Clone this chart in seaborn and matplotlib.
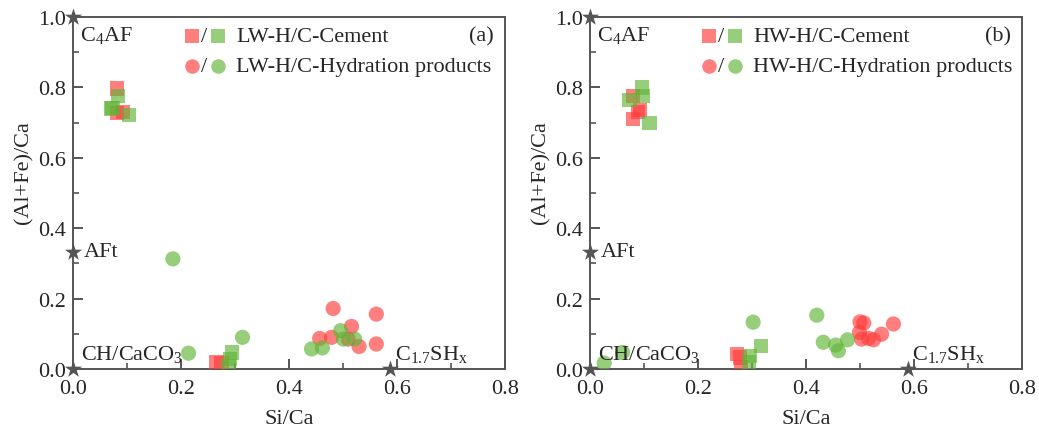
import matplotlib
matplotlib.use("Agg")
import matplotlib.pyplot as plt
from matplotlib.ticker import MultipleLocator
import seaborn as sns
import pandas as pd

# ---- LW-H/C : panel (a) ----
lw_cem_red_x = [0.081, 0.092, 0.082, 0.266, 0.275]
lw_cem_red_y = [0.797, 0.731, 0.727, 0.021, 0.016]
lw_cem_green_x = [0.084, 0.073, 0.070, 0.104, 0.294, 0.291, 0.288]
lw_cem_green_y = [0.775, 0.741, 0.740, 0.722, 0.047, 0.028, 0.009]
lw_hyd_red_x = [0.482, 0.562, 0.516, 0.457, 0.479, 0.510, 0.530, 0.562]
lw_hyd_red_y = [0.172, 0.156, 0.121, 0.087, 0.090, 0.085, 0.064, 0.071]
lw_hyd_green_x = [0.185, 0.214, 0.314, 0.496, 0.501, 0.522, 0.442, 0.462]
lw_hyd_green_y = [0.313, 0.045, 0.090, 0.109, 0.085, 0.085, 0.057, 0.060]

# ---- HW-H/C : panel (b) ----
hw_cem_red_x = [0.079, 0.093, 0.088, 0.079, 0.272, 0.278, 0.279]
hw_cem_red_y = [0.776, 0.736, 0.730, 0.710, 0.043, 0.033, 0.005]
hw_cem_green_x = [0.096, 0.098, 0.073, 0.110, 0.296, 0.295, 0.316]
hw_cem_green_y = [0.800, 0.776, 0.765, 0.699, 0.038, 0.019, 0.066]
hw_hyd_red_x = [0.500, 0.507, 0.562, 0.499, 0.540, 0.503, 0.516, 0.525]
hw_hyd_red_y = [0.134, 0.131, 0.128, 0.104, 0.099, 0.085, 0.087, 0.083]
hw_hyd_green_x = [0.026, 0.060, 0.302, 0.420, 0.432, 0.455, 0.460, 0.477]
hw_hyd_green_y = [0.017, 0.047, 0.133, 0.153, 0.076, 0.068, 0.052, 0.083]

# reference phases (Si/Ca, (Al+Fe)/Ca)
phase_names = ["C$_4$AF", "AFt", "CH/CaCO$_3$", "C$_{1.7}$SH$_{\\mathrm{x}}$"]
phase_x = [0.0, 0.0, 0.0, 1 / 1.7]
phase_y = [1.0, 1 / 3, 0.0, 0.0]

panel_labels = ["(a)", "(b)"]
legend_cement = ["LW-H/C-Cement", "HW-H/C-Cement"]
legend_hydration = ["LW-H/C-Hydration products", "HW-H/C-Hydration products"]

RED = "#ff3b3b"
GREEN = "#5fb435"
STAR = "#555555"
SPINE = "#555555"

sns.set_style("ticks")
plt.rcParams["font.family"] = ["Liberation Serif", "DejaVu Serif"]
plt.rcParams["mathtext.fontset"] = "custom"
plt.rcParams["mathtext.rm"] = "Liberation Serif"
plt.rcParams["mathtext.it"] = "Liberation Serif:italic"
plt.rcParams["mathtext.bf"] = "Liberation Serif:bold"
plt.rcParams["xtick.direction"] = "in"
plt.rcParams["ytick.direction"] = "in"


def frame(xs, ys, group, color):
    return pd.DataFrame({"x": xs, "y": ys, "group": group, "color": color})


panels = [
    [
        frame(lw_cem_red_x, lw_cem_red_y, "cement", "red"),
        frame(lw_cem_green_x, lw_cem_green_y, "cement", "green"),
        frame(lw_hyd_red_x, lw_hyd_red_y, "hydration", "red"),
        frame(lw_hyd_green_x, lw_hyd_green_y, "hydration", "green"),
    ],
    [
        frame(hw_cem_red_x, hw_cem_red_y, "cement", "red"),
        frame(hw_cem_green_x, hw_cem_green_y, "cement", "green"),
        frame(hw_hyd_red_x, hw_hyd_red_y, "hydration", "red"),
        frame(hw_hyd_green_x, hw_hyd_green_y, "hydration", "green"),
    ],
]

fig = plt.figure(figsize=(10.39, 4.31), dpi=100)
ax_a = fig.add_axes([0.0703, 0.1415, 0.4155, 0.8165])
ax_b = fig.add_axes([0.5680, 0.1415, 0.4155, 0.8165])

FS = 16

for i, (ax, parts) in enumerate(zip([ax_a, ax_b], panels)):
    df = pd.concat(parts, ignore_index=True)
    palette = {"red": RED, "green": GREEN}
    sns.scatterplot(data=df[df.group == "cement"], x="x", y="y", hue="color",
                    palette=palette, marker="s", s=105, alpha=0.65,
                    linewidth=0, legend=False, ax=ax, zorder=3)
    sns.scatterplot(data=df[df.group == "hydration"], x="x", y="y", hue="color",
                    palette=palette, marker="o", s=120, alpha=0.65,
                    linewidth=0, legend=False, ax=ax, zorder=3)

    # reference phases
    ax.scatter(phase_x, phase_y, marker="*", s=170, color=STAR, zorder=5,
               clip_on=False, linewidth=0)
    ax.text(0.012, 0.950, phase_names[0], fontsize=FS, ha="left", va="center")
    ax.text(0.020, 1 / 3, phase_names[1], fontsize=FS, ha="left", va="center")
    ax.text(0.014, 0.045, phase_names[2], fontsize=FS, ha="left", va="center")
    ax.text(0.597, 0.043, phase_names[3], fontsize=FS, ha="left", va="center")

    ax.set_xlim(0, 0.8)
    ax.set_ylim(0, 1.0)
    ax.xaxis.set_major_locator(MultipleLocator(0.2))
    ax.xaxis.set_minor_locator(MultipleLocator(0.1))
    ax.yaxis.set_major_locator(MultipleLocator(0.2))
    ax.yaxis.set_minor_locator(MultipleLocator(0.1))
    ax.xaxis.set_major_formatter(lambda v, p: f"{v:.1f}")
    ax.yaxis.set_major_formatter(lambda v, p: f"{v:.1f}")
    ax.tick_params(axis="both", which="major", direction="in", length=7,
                   width=1.4, color=SPINE, labelsize=FS,
                   bottom=True, left=True, top=False, right=False)
    ax.tick_params(axis="both", which="minor", direction="in", length=4.5,
                   width=1.2, color=SPINE,
                   bottom=True, left=True, top=False, right=False)
    ax.tick_params(axis="x", which="major", pad=7)
    ax.tick_params(axis="y", which="major", pad=5)
    for sp in ax.spines.values():
        sp.set_visible(True)
        sp.set_color(SPINE)
        sp.set_linewidth(1.4)
    ax.set_xlabel("Si/Ca", fontsize=FS, labelpad=8)
    ax.set_ylabel("(Al+Fe)/Ca", fontsize=FS)
    ax.yaxis.set_label_coords(-0.092, 0.56)

    # legend built from marker pairs
    tr = ax.transAxes
    for row_y, mk, sz, label in [(0.946, "s", 90, legend_cement[i]),
                                 (0.861, "o", 110, legend_hydration[i])]:
        ax.scatter([0.275], [row_y], marker=mk, s=sz, color=RED, alpha=0.65,
                   linewidth=0, transform=tr, zorder=4)
        ax.text(0.304, row_y, "/", fontsize=FS, ha="center", va="center",
                transform=tr)
        ax.scatter([0.336], [row_y], marker=mk, s=sz, color=GREEN, alpha=0.65,
                   linewidth=0, transform=tr, zorder=4)
        ax.text(0.378, row_y, label, fontsize=FS, ha="left", va="center",
                transform=tr)
    ax.text(0.945, 0.946, panel_labels[i], fontsize=FS, ha="center",
            va="center", transform=tr)

fig.savefig("out.png", dpi=100)
